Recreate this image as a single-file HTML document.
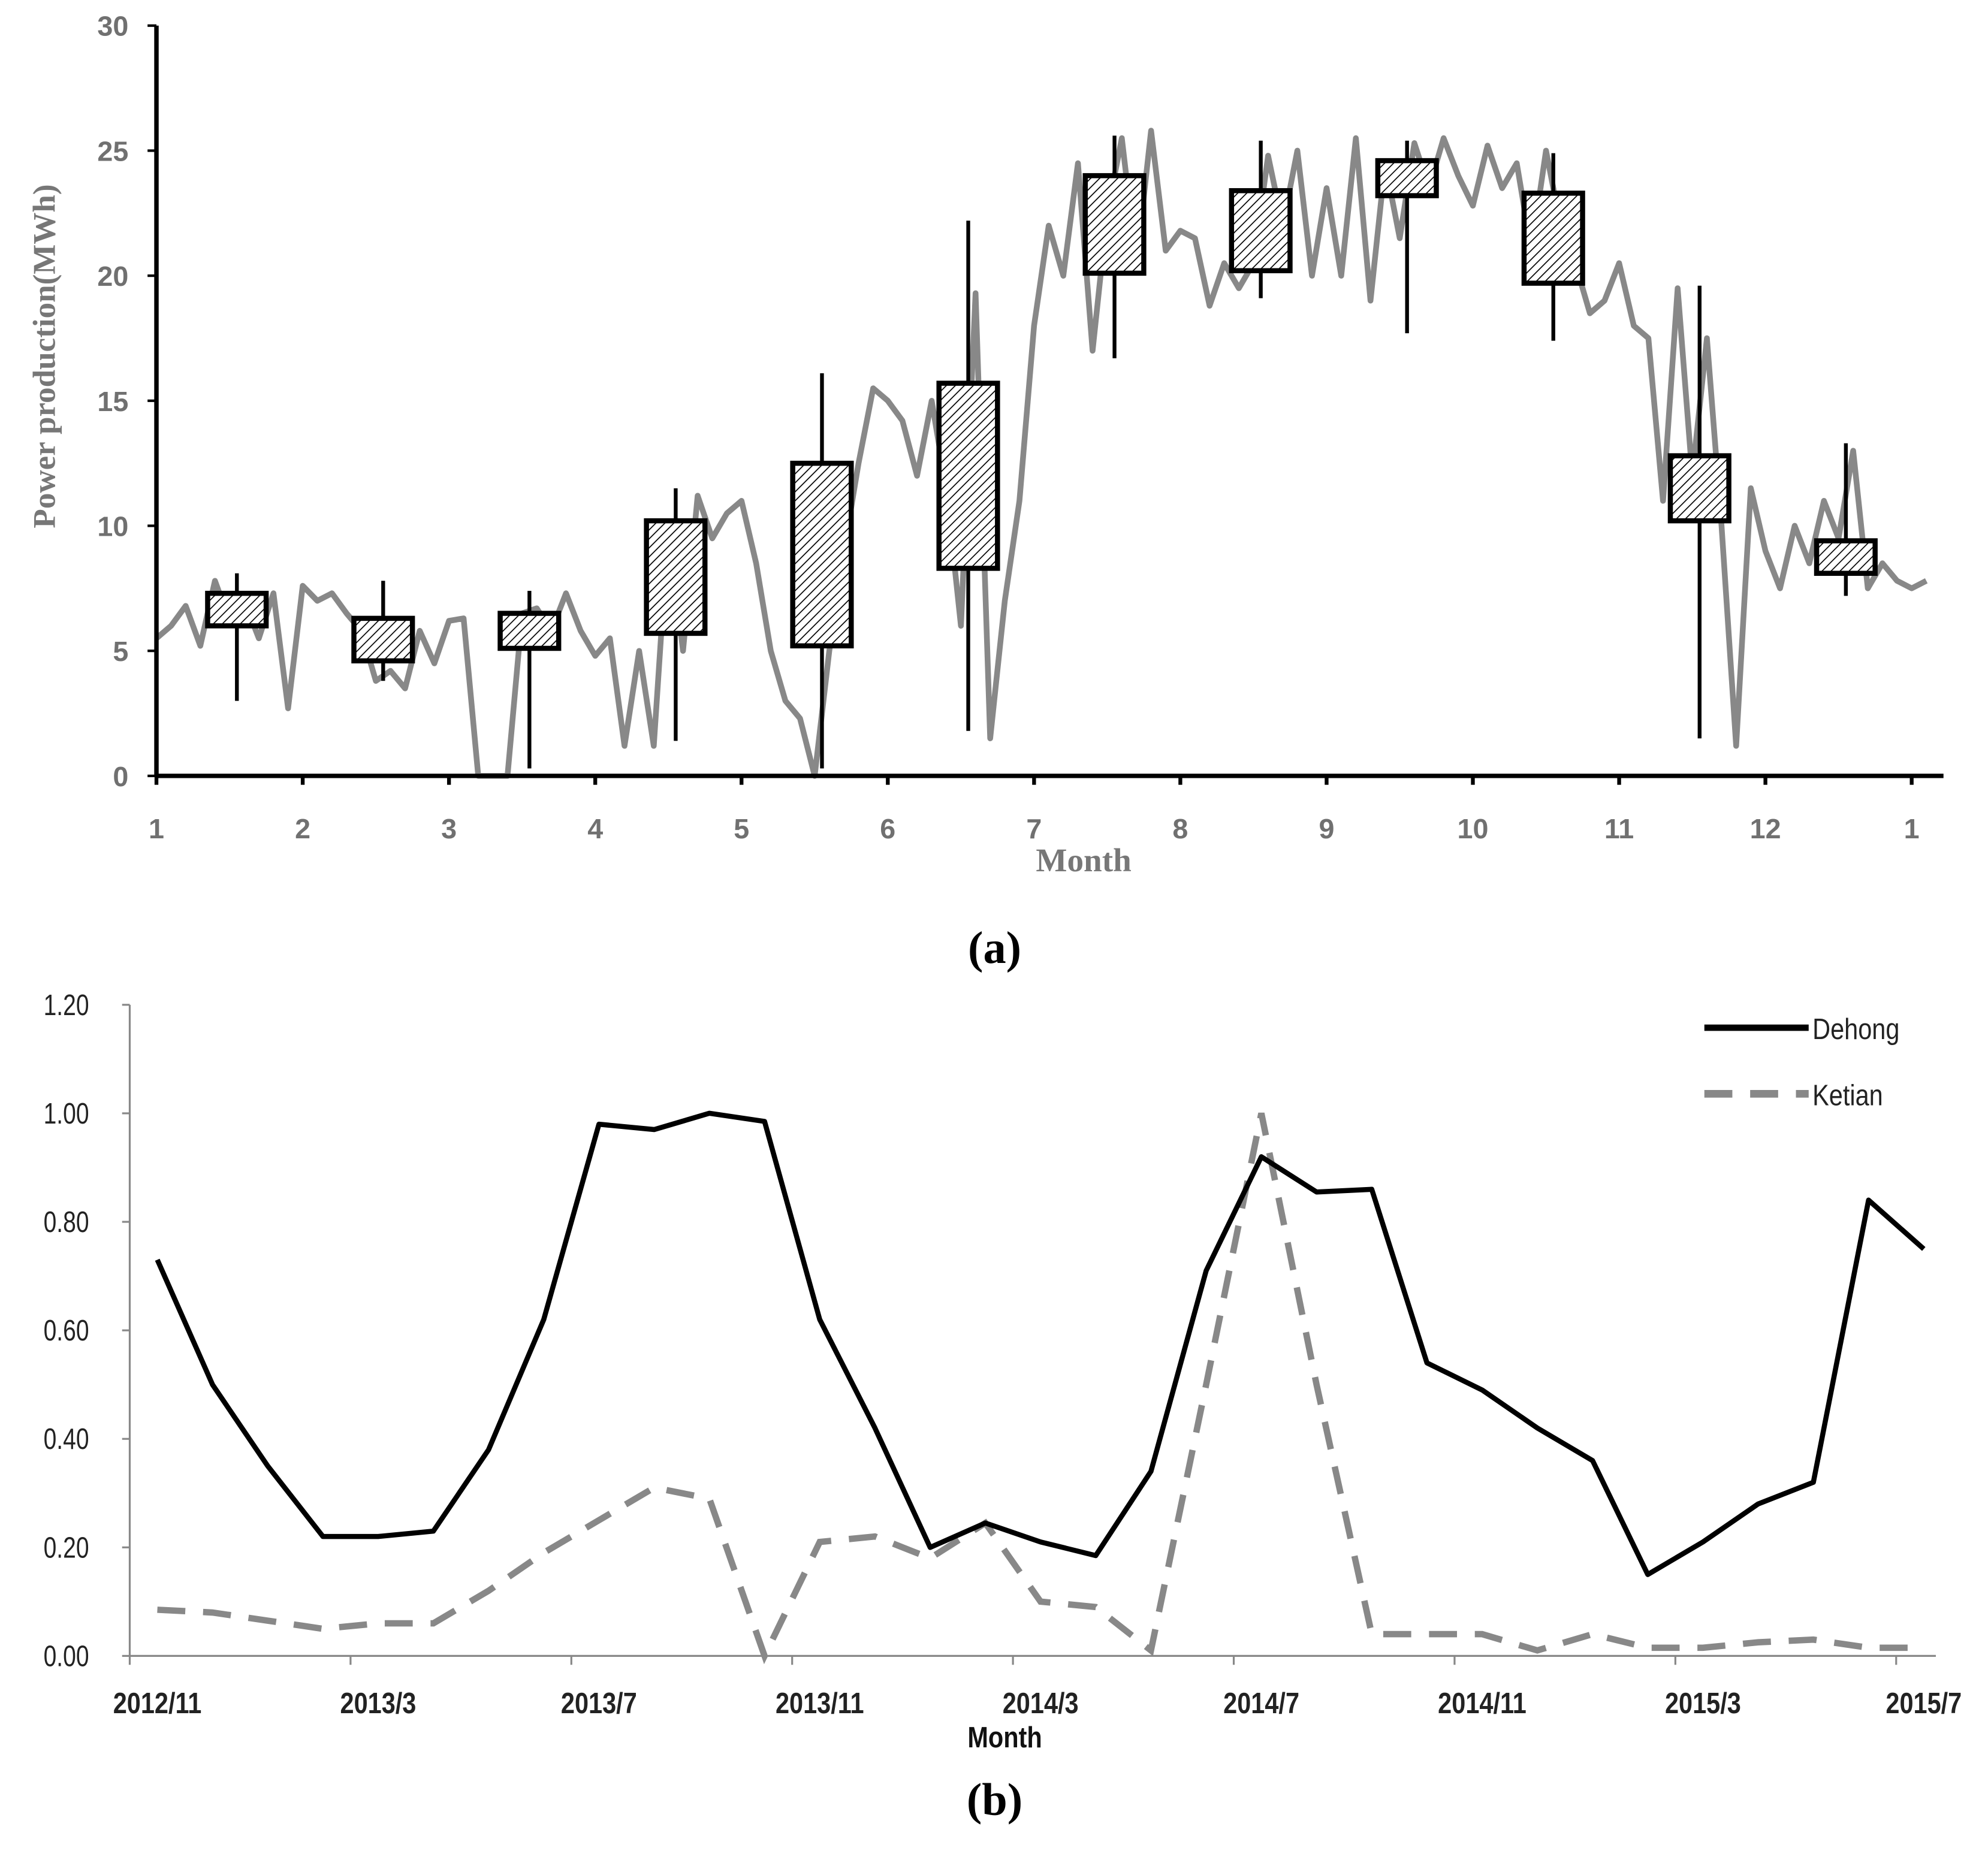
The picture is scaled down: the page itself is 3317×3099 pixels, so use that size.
<!DOCTYPE html>
<html><head><meta charset="utf-8"><style>
html,body{margin:0;padding:0;background:#fff;}
svg{display:block;}
</style></head><body>
<svg id="svg" width="3317" height="3099" viewBox="0 0 1563 1460" xmlns="http://www.w3.org/2000/svg">
<defs>
<pattern id="hatch" patternUnits="userSpaceOnUse" width="5" height="5" patternTransform="rotate(45)">
<rect width="5" height="5" fill="#fff"/><line x1="0" y1="0" x2="0" y2="5" stroke="#000" stroke-width="1.6"/>
</pattern>
</defs>
<g id="chartA"></g>
<g id="chartB"></g>
<text x="782" y="757" text-anchor="middle" font-family="Liberation Serif, serif" font-size="36" font-weight="bold">(a)</text>
<text x="782" y="1427" text-anchor="middle" font-family="Liberation Serif, serif" font-size="36" font-weight="bold">(b)</text>
</svg>
<script>
// ---- Chart A data ----
const monthTicksA = ["1","2","3","4","5","6","7","8","9","10","11","12","1"];
const yTicksA = [0,5,10,15,20,25,30];
const boxLow = [3.0,3.8,0.3,1.4,0.3,1.8,16.7,19.1,17.7,17.4,1.5,7.2];
const boxQ1 = [6.0,4.6,5.1,5.7,5.2,8.3,20.1,20.2,23.2,19.7,10.2,8.1];
const boxQ3 = [7.3,6.3,6.5,10.2,12.5,15.7,24.0,23.4,24.6,23.3,12.8,9.4];
const boxHigh = [8.1,7.8,7.4,11.5,16.1,22.2,25.6,25.4,25.4,24.9,19.6,13.3];
const dailyPower = [
5.5,6.0,6.8,5.2,7.8,6.2,7.0,5.5,7.3,2.7,
7.6,7.0,7.3,6.5,5.8,3.8,4.2,3.5,5.8,4.5,
6.2,6.3,0,0,0,6.5,6.7,5.8,7.3,5.8,
4.8,5.5,1.2,5.0,1.2,10.0,5.0,11.2,9.5,10.5,
11.0,8.5,5.0,3.0,2.3,0,5.0,9.0,12.5,15.5,
15.0,14.2,12.0,15.0,11.5,6.0,19.3,1.5,7.0,11.0,
18.0,22.0,20.0,24.5,17.0,22.5,25.5,20.5,25.8,21.0,
21.8,21.5,18.8,20.5,19.5,20.5,24.8,22.0,25.0,20.0,
23.5,20.0,25.5,19.0,24.5,21.5,25.3,23.5,25.5,24.0,
22.8,25.2,23.5,24.5,21.0,25.0,22.0,20.5,18.5,19.0,
20.5,18.0,17.5,11.0,19.5,12.0,17.5,10.0,1.2,11.5,
9.0,7.5,10.0,8.5,11.0,9.5,13.0,7.5,8.5,7.8,
7.5,7.8];
// ---- Chart B data ----
const monthsB = ["2012/11","2012/12","2013/1","2013/2","2013/3","2013/4","2013/5","2013/6","2013/7","2013/8","2013/9","2013/10","2013/11","2013/12","2014/1","2014/2","2014/3","2014/4","2014/5","2014/6","2014/7","2014/8","2014/9","2014/10","2014/11","2014/12","2015/1","2015/2","2015/3","2015/4","2015/5","2015/6","2015/7"];
const yTicksB = ["0.00","0.20","0.40","0.60","0.80","1.00","1.20"];
const dehong = [0.73,0.50,0.35,0.22,0.22,0.23,0.38,0.62,0.98,0.97,1.00,0.985,0.62,0.42,0.20,0.245,0.21,0.185,0.34,0.71,0.92,0.855,0.86,0.54,0.49,0.42,0.36,0.15,0.21,0.28,0.32,0.84,0.75];
const ketian = [0.085,0.08,0.065,0.05,0.06,0.06,0.12,0.19,0.25,0.31,0.29,0.0,0.21,0.22,0.18,0.245,0.10,0.09,0.01,0.50,1.00,0.50,0.04,0.04,0.04,0.01,0.04,0.015,0.015,0.025,0.03,0.015,0.015];

const NS="http://www.w3.org/2000/svg";
function mk(parent,tag,attrs,text){const e=document.createElementNS(NS,tag);for(const k in attrs)e.setAttribute(k,attrs[k]);if(text!==undefined)e.textContent=text;parent.appendChild(e);return e;}

// ---- Chart A ----
const A=document.getElementById('chartA');
const ax0=123, monthW=115, ay0=610, ayTop=20;
const yA=v=>ay0-(v/30)*(ay0-ayTop);
const xMonth=m=>ax0+m*monthW;
const xDay=i=>ax0+i*(monthW/10);
const fA='font-family:"Liberation Sans",sans-serif;font-weight:bold;font-size:22px;fill:#707070';
let d=dailyPower.map((v,i)=>(i?'L':'M')+xDay(i).toFixed(1)+','+yA(v).toFixed(1)).join('');
let ln=mk(A,'path',{d:d,fill:'none',stroke:'#888','stroke-width':4.5,'stroke-linejoin':'round'});


for(let i=0;i<boxLow.length;i++){
  const cx=xMonth(i+0.55);
  let w=mk(A,'line',{x1:cx,x2:cx,y1:yA(boxLow[i]),y2:yA(boxHigh[i]),stroke:'#000','stroke-width':3});
  
  
  let r=mk(A,'rect',{x:cx-23,y:yA(boxQ3[i]),width:46,height:yA(boxQ1[i])-yA(boxQ3[i]),fill:'url(#hatch)',stroke:'#000','stroke-width':4});
  
  
}
let axl=mk(A,'line',{x1:ax0,x2:ax0,y1:ayTop,y2:ay0,stroke:'#000','stroke-width':3.5});


let axb=mk(A,'line',{x1:ax0,x2:1528,y1:ay0,y2:ay0,stroke:'#000','stroke-width':3.5});


yTicksA.forEach(v=>{
  mk(A,'line',{x1:ax0-7,x2:ax0,y1:yA(v),y2:yA(v),stroke:'#000','stroke-width':2});
  let t=mk(A,'text',{x:ax0-22,y:yA(v)+8,'text-anchor':'end',style:fA},String(v));
  
  
});
monthTicksA.forEach((m,i)=>{
  mk(A,'line',{x1:xMonth(i),x2:xMonth(i),y1:ay0,y2:ay0+7,stroke:'#000','stroke-width':3});
  let t=mk(A,'text',{x:xMonth(i),y:659,'text-anchor':'middle',style:fA},m);
  
  
});
let xt=mk(A,'text',{x:852,y:685,'text-anchor':'middle',style:'font-family:"Liberation Serif",serif;font-weight:bold;font-size:26px;fill:#777'},'Month');


let yt=mk(A,'text',{x:0,y:0,transform:'translate(43,280) rotate(-90)','text-anchor':'middle',style:'font-family:"Liberation Serif",serif;font-weight:bold;font-size:25px;fill:#777'},'Power production(MWh)');



// ---- Chart B ----
const B=document.getElementById('chartB');
const bx0=102, mW=43.4, by0=1302, byTop=790;
const yB=v=>by0-(v/1.2)*(by0-byTop);
const xB=i=>bx0+(i+0.5)*mW;
const fB='font-family:"Liberation Sans",sans-serif;font-size:23px;fill:#222';
let bl=mk(B,'line',{x1:bx0,x2:bx0,y1:byTop,y2:by0,stroke:'#888','stroke-width':1.5});


let bb=mk(B,'line',{x1:bx0,x2:1522,y1:by0,y2:by0,stroke:'#888','stroke-width':1.5});


yTicksB.forEach(s=>{
  const v=parseFloat(s);
  mk(B,'line',{x1:bx0-6,x2:bx0,y1:yB(v),y2:yB(v),stroke:'#888','stroke-width':1.5});
  let t=mk(B,'text',{x:0,y:0,transform:'translate(70,'+(yB(v)+8)+') scale(0.8,1)','text-anchor':'end',style:fB},s);
  
  
});
monthsB.forEach((m,i)=>{
  if(i%4===0){
    const tx=bx0+i*mW;
    mk(B,'line',{x1:tx,x2:tx,y1:by0,y2:by0+7,stroke:'#888','stroke-width':1.5});
    let t=mk(B,'text',{x:0,y:0,transform:'translate('+xB(i)+',1347) scale(0.85,1)','text-anchor':'middle',style:fB+';font-weight:bold'},m);
    
    
  }
});
let xtb=mk(B,'text',{x:0,y:0,transform:'translate(790,1374) scale(0.85,1)','text-anchor':'middle',style:fB+';font-weight:bold;fill:#111'},'Month');


let dk=mk(B,'path',{d:ketian.map((v,i)=>(i?'L':'M')+xB(i).toFixed(1)+','+yB(v).toFixed(1)).join(''),fill:'none',stroke:'#888','stroke-width':5,'stroke-dasharray':'22,14'});


let dd=mk(B,'path',{d:dehong.map((v,i)=>(i?'L':'M')+xB(i).toFixed(1)+','+yB(v).toFixed(1)).join(''),fill:'none',stroke:'#000','stroke-width':4,'stroke-linejoin':'round'});


let lg1=mk(B,'line',{x1:1340,x2:1422,y1:808,y2:808,stroke:'#000','stroke-width':5});


let lt1=mk(B,'text',{x:0,y:0,transform:'translate(1425,817) scale(0.85,1)',style:fB},'Dehong');


let lg2=mk(B,'line',{x1:1340,x2:1422,y1:860,y2:860,stroke:'#888','stroke-width':6,'stroke-dasharray':'22,14'});


let lt2=mk(B,'text',{x:0,y:0,transform:'translate(1425,869) scale(0.85,1)',style:fB},'Ketian');


</script>
</body></html>
